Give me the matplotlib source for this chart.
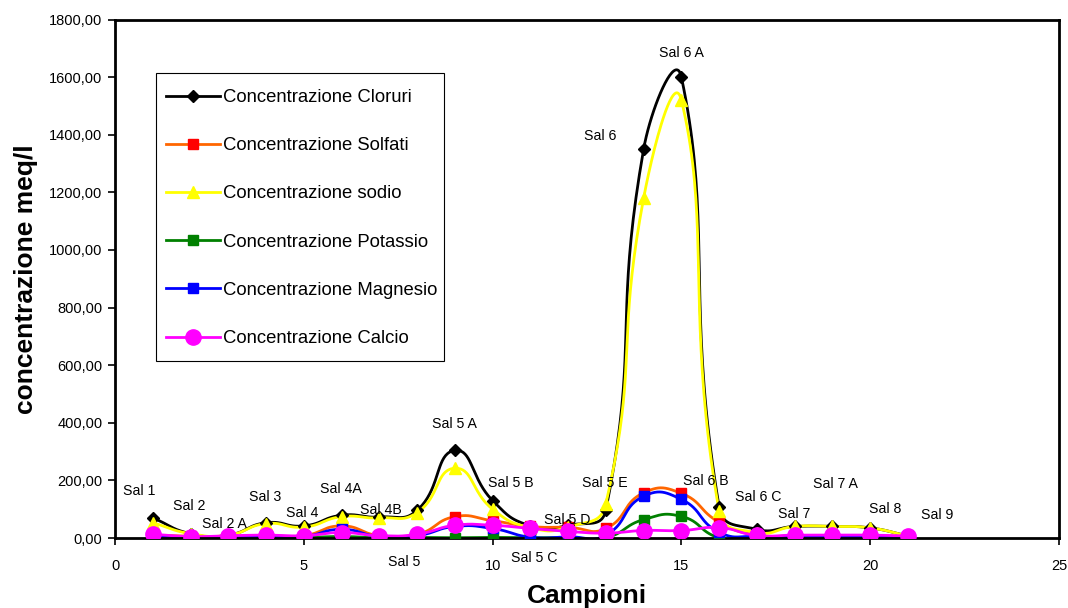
import numpy as np
import matplotlib
matplotlib.use("Agg")
import matplotlib.pyplot as plt
from matplotlib.patches import Rectangle
from matplotlib.ticker import FuncFormatter, MultipleLocator

plt.rcParams['font.family'] = ['Liberation Sans', 'DejaVu Sans']

# Sample index (Campioni) and measured concentrations in meq/l
campioni = list(range(1, 22))
cloruri = [70, 15, 10, 53, 42, 79, 73, 96, 304, 130, 42, 44, 98, 1350, 1600, 107, 30, 40, 40, 35, 7]
solfati = [10, 6, 5, 8, 8, 42, 8, 12, 74, 60, 40, 37, 33, 157, 155, 55, 10, 8, 8, 8, 5]
sodio = [53, 15, 10, 50, 38, 74, 70, 88, 242, 100, 36, 38, 119, 1180, 1520, 92, 19, 40, 40, 35, 7]
potassio = [2, 1, 1, 2, 2, 5, 1, 2, 1, 2, 1, 2, 1, 64, 75, 1, 1, 2, 2, 2, 1]
magnesio = [5, 3, 3, 5, 5, 30, 5, 8, 40, 33, 3, 4, 10, 145, 134, 20, 5, 5, 5, 5, 3]
calcio = [13, 5, 8, 10, 8, 19, 8, 13, 44, 44, 33, 23, 17, 26, 26, 36, 9, 10, 10, 10, 7]

sample_names = ["Sal 1", "Sal 2", "Sal 2 A", "Sal 3", "Sal 4", "Sal 4A", "Sal 4B", "Sal 5",
                "Sal 5 A", "Sal 5 B", "Sal 5 C", "Sal 5 D", "Sal 5 E", "Sal 6", "Sal 6 A",
                "Sal 6 B", "Sal 6 C", "Sal 7", "Sal 7 A", "Sal 8", "Sal 9"]
# where each sample name is placed (data coordinates)
name_pos = [(0.64, 163), (1.96, 111), (2.9, 49), (3.97, 142), (4.95, 87), (5.99, 170),
            (7.04, 97), (7.65, -83), (8.98, 395), (10.49, 191), (11.1, -69), (11.97, 62),
            (12.98, 191), (12.84, 1394), (14.99, 1682), (15.65, 198), (17.03, 142),
            (17.98, 83), (19.07, 187), (20.39, 101), (21.77, 80)]

series = [
    ("Concentrazione Cloruri", cloruri, "#000000", "#000000", "D", 6),
    ("Concentrazione Solfati", solfati, "#FF6600", "#FF0000", "s", 7.5),
    ("Concentrazione sodio", sodio, "#FFFF00", "#FFFF00", "^", 8),
    ("Concentrazione Potassio", potassio, "#008000", "#008000", "s", 7.5),
    ("Concentrazione Magnesio", magnesio, "#0000FF", "#0000FF", "s", 7.5),
    ("Concentrazione Calcio", calcio, "#FF00FF", "#FF00FF", "o", 11),
]

fig = plt.figure(figsize=(10.68, 6.08), dpi=100)
ax = fig.add_axes([115 / 1068, 1 - 538 / 608, (1059 - 115) / 1068, (538 - 19.5) / 608])
ax.set_xlim(0, 25)
ax.set_ylim(0, 1800)


def smooth(x, y, n=40, f=0.5):
    """Smoothed line through the points: cubic Bezier segments whose control
    arms are weighted by the on-screen lengths of the neighbouring segments."""
    pts = ax.transData.transform(np.column_stack([x, y]).astype(float))
    m = len(pts)
    tang = np.zeros_like(pts)
    w_in = np.zeros(m)
    w_out = np.zeros(m)
    seg = np.linalg.norm(np.diff(pts, axis=0), axis=1)
    for i in range(m):
        a = pts[max(i - 1, 0)]
        b = pts[min(i + 1, m - 1)]
        tang[i] = b - a
        d0 = seg[i - 1] if i > 0 else 0.0
        d1 = seg[i] if i < m - 1 else 0.0
        tot = d0 + d1 if d0 + d1 > 0 else 1.0
        w_in[i] = f * d0 / tot
        w_out[i] = f * d1 / tot
    t = np.linspace(0, 1, n, endpoint=False)[:, None]
    out = []
    for i in range(m - 1):
        p0 = pts[i]
        p3 = pts[i + 1]
        c1 = p0 + tang[i] * w_out[i]
        c2 = p3 - tang[i + 1] * w_in[i + 1]
        out.append((1 - t) ** 3 * p0 + 3 * (1 - t) ** 2 * t * c1
                   + 3 * (1 - t) * t ** 2 * c2 + t ** 3 * p3)
    out.append(pts[-1][None, :])
    curve = ax.transData.inverted().transform(np.vstack(out))
    return curve[:, 0], curve[:, 1]


handles = []
for label, vals, lc, mc, mk, ms in series:
    sx, sy = smooth(campioni, vals)
    ax.plot(sx, sy, color=lc, lw=2.0, solid_capstyle='round', zorder=2)
    ax.plot(campioni, vals, ls='none', marker=mk, ms=ms, color=mc, mec=mc, zorder=3)
    h, = ax.plot([], [], color=lc, lw=2.0, marker=mk, ms=ms, mfc=mc, mec=mc)
    h.set_label(label)
    handles.append(h)

for name, (nx, ny) in zip(sample_names, name_pos):
    ax.text(nx, ny, name, fontsize=10.2, ha='center', va='center', clip_on=False, zorder=4)

ax.xaxis.set_major_locator(MultipleLocator(5))
ax.yaxis.set_major_locator(MultipleLocator(200))
ax.yaxis.set_major_formatter(FuncFormatter(lambda v, p: f"{v:.2f}".replace('.', ',')))
ax.tick_params(axis='both', direction='out', length=5, width=1.2, labelsize=10.5, pad=4)
ax.tick_params(axis='x', pad=10)
for s in ax.spines.values():
    s.set_linewidth(2.0)
    s.set_color('black')

ax.set_xlabel("Campioni", fontsize=19, fontweight='bold', labelpad=8)
ax.set_ylabel("concentrazione meq/l", fontsize=19, fontweight='bold', labelpad=8)

# legend box
W, H = 1068, 608
box = Rectangle((156 / W, 1 - 361 / H), (444 - 156) / W, (361 - 73) / H,
                transform=fig.transFigure, facecolor='white', edgecolor='black',
                linewidth=0.8, zorder=5)
ax.add_artist(box)
leg = ax.legend(handles=handles, loc='upper left',
                bbox_to_anchor=(166 / W, 1 - 89 / H), bbox_transform=fig.transFigure,
                fontsize=13.3, frameon=False, handlelength=2.9, handletextpad=0.2,
                labelspacing=1.69, borderpad=0, borderaxespad=0)
leg.set_zorder(6)

fig.savefig("out.png", dpi=100)
